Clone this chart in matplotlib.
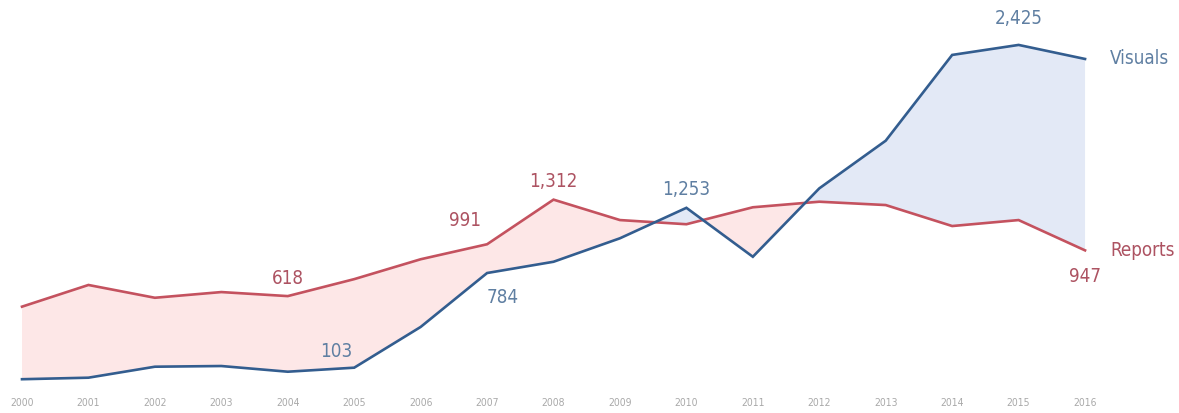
import matplotlib
matplotlib.use("Agg")
import matplotlib.pyplot as plt
from matplotlib import font_manager

years = list(range(2000, 2017))
visuals = [20, 31, 110, 115, 74, 103, 396, 784, 865, 1034, 1253, 901, 1393, 1736, 2353, 2425, 2324]
reports = [542, 698, 606, 647, 618, 740, 883, 991, 1312, 1165, 1135, 1257, 1297, 1273, 1122, 1165, 947]

# years whose values are written next to the line
visual_callouts = [2005, 2007, 2010, 2015]
report_callouts = [2004, 2007, 2008, 2016]

RED_LINE = "#c4525f"
BLUE_LINE = "#335d8f"
RED_TEXT = "#ad5362"
BLUE_TEXT = "#5f7fa2"
RED_FILL = "#fde7e7"
BLUE_FILL = "#e3e9f6"

names = {f.name for f in font_manager.fontManager.ttflist}
if "Liberation Sans Narrow" in names:
    FONT = dict(family="Liberation Sans Narrow")
else:
    FONT = dict(family="DejaVu Sans", stretch="condensed")

fig = plt.figure(figsize=(11.79, 4.13), dpi=100)
ax = fig.add_axes([0, 0, 1, 1])

ax.fill_between(years, visuals, reports, where=[r >= v for r, v in zip(reports, visuals)],
                interpolate=True, color=RED_FILL, linewidth=0)
ax.fill_between(years, visuals, reports, where=[v >= r for r, v in zip(reports, visuals)],
                interpolate=True, color=BLUE_FILL, linewidth=0)
ax.plot(years, reports, color=RED_LINE, linewidth=1.9, solid_joinstyle="miter")
ax.plot(years, visuals, color=BLUE_LINE, linewidth=1.9, solid_joinstyle="miter")

px_year = 66.44
x0 = 2000 - 22 / px_year
ax.set_xlim(x0, x0 + 1179 / px_year)
k = 0.139
ax.set_ylim(-31 / k, 382 / k)

def val(series, yr):
    return series[years.index(yr)]

# label offsets in points from each point
offsets_v = {2005: (-13, 5), 2007: (11, -11), 2010: (0, 6), 2015: (0, 12)}
offsets_r = {2004: (0, 6), 2007: (-16, 10), 2008: (0, 6), 2016: (0, -12)}
for yr in visual_callouts:
    v = val(visuals, yr)
    dx, dy = offsets_v[yr]
    ax.annotate(f"{v:,}", (yr, v), xytext=(dx, dy), textcoords="offset points",
                ha="center", va="bottom" if dy > 0 else "top", fontsize=13.5,
                color=BLUE_TEXT, **FONT)
for yr in report_callouts:
    v = val(reports, yr)
    dx, dy = offsets_r[yr]
    ax.annotate(f"{v:,}", (yr, v), xytext=(dx, dy), textcoords="offset points",
                ha="center", va="bottom" if dy > 0 else "top", fontsize=13.5,
                color=RED_TEXT, **FONT)

# series names at the right end
ax.annotate("Visuals", (years[-1], visuals[-1]), xytext=(18, 0), textcoords="offset points",
            ha="left", va="center", fontsize=13.5, color=BLUE_TEXT, **FONT)
ax.annotate("Reports", (years[-1], reports[-1]), xytext=(18, 0), textcoords="offset points",
            ha="left", va="center", fontsize=13.5, color=RED_TEXT, **FONT)

# year labels along the bottom
for yr in years:
    ax.text(yr, -21 / k, str(yr), ha="center", va="center", fontsize=7.5,
            color="#a9a9a9", **FONT)

ax.axis("off")
fig.savefig("out.png", dpi=100, facecolor="white")
